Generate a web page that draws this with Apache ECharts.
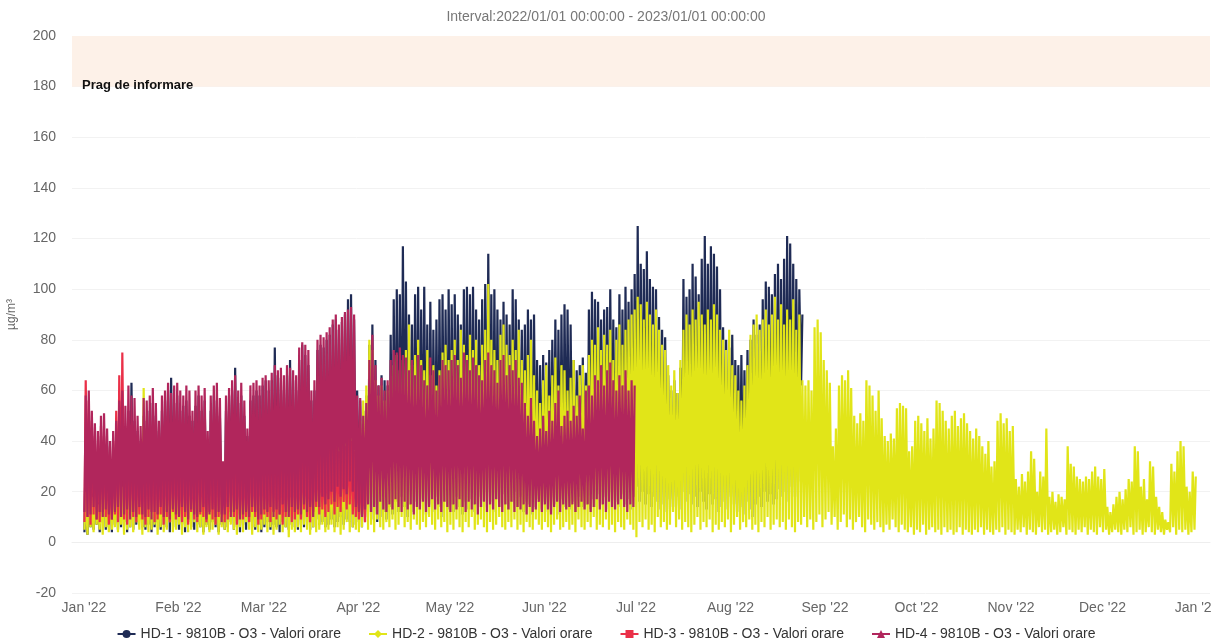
<!DOCTYPE html>
<html>
<head>
<meta charset="utf-8">
<script src="https://cdn.jsdelivr.net/npm/echarts/dist/echarts.min.js"></script>
<style>
  html, body { margin: 0; padding: 0; background: #fff; }
  #chart { width: 1212px; height: 638px; }
</style>
</head>
<body>
<div id="chart"></div>
<script>
// daily peak / low values, one entry per day from 2022-01-01
var seriesNames = [
  'HD-1 - 9810B - O3 - Valori orare',
  'HD-2 - 9810B - O3 - Valori orare',
  'HD-3 - 9810B - O3 - Valori orare',
  'HD-4 - 9810B - O3 - Valori orare'
];
var monthNames = ['Jan', 'Feb', 'Mar', 'Apr', 'May', 'Jun', 'Jul', 'Aug', 'Sep', 'Oct', 'Nov', 'Dec'];

var hd1Max = [
  40, 45, 38, 35, 30, 42, 36, 40, 32, 36,
  42, 48, 50, 45, 52, 63, 48, 44, 40, 50,
  48, 52, 55, 50, 44, 52, 56, 60, 65, 55,
  58, 52, 54, 56, 50, 48, 54, 58, 52, 56,
  40, 52, 58, 56, 50, 30, 52, 58, 60, 69,
  55, 58, 50, 42, 56, 58, 60, 58, 62, 64,
  60, 64, 77, 66, 65, 60, 66, 72, 64, 60,
  72, 78, 74, 70, 56, 60, 76, 78, 77, 80,
  82, 86, 88, 84, 87, 90, 96, 98, 88, 60,
  56, 52, 58, 78, 86, 72, 62, 66, 64, 62,
  82, 96, 100, 98, 117, 103, 90, 86, 98, 101,
  92, 101, 86, 95, 84, 88, 96, 98, 92, 100,
  94, 98, 90, 86, 100, 101, 98, 101, 92, 88,
  96, 102, 114, 98, 100, 92, 88, 95, 90, 86,
  100, 96, 88, 84, 86, 92, 88, 90, 72, 70,
  74, 71, 76, 80, 88, 84, 90, 94, 92, 86,
  72, 68, 70, 73, 67, 92, 99, 96, 95, 88,
  92, 93, 100, 88, 85, 98, 92, 101, 95, 100,
  106, 125, 110, 108, 115, 104, 101, 100, 89, 84,
  81, 66, 60, 64, 59, 69, 104, 97, 100, 110,
  105, 98, 112, 121, 110, 117, 114, 109, 100, 85,
  80, 77, 82, 72, 70, 74, 68, 76, 80, 88,
  82, 86, 96, 103, 101, 98, 106, 110, 104, 112,
  121, 118, 110, 104, 100, 90
];
var hd1Min = [
  4, 3, 6, 5, 7, 4, 8, 5, 6, 4,
  7, 5, 6, 8, 4, 6, 5, 7, 9, 6,
  5, 7, 4, 6, 8, 5, 7, 6, 4, 8,
  6, 5, 7, 4, 8, 6, 5, 7, 6, 4,
  7, 5, 8, 6, 4, 7, 5, 6, 8, 5,
  6, 4, 7, 5, 8, 6, 5, 7, 4, 6,
  8, 5, 7, 6, 4, 8, 6, 5, 7, 6,
  5, 7, 6, 8, 5, 6, 9, 7, 8, 6,
  7, 9, 6, 8, 10, 7, 9, 8, 6, 7,
  8, 6, 10, 12, 9, 11, 8, 10, 12, 9,
  14, 11, 16, 12, 18, 14, 10, 15, 12, 16,
  13, 17, 11, 15, 12, 18, 14, 10, 16, 13,
  15, 12, 18, 14, 11, 16, 13, 17, 12, 15,
  18, 14, 20, 16, 12, 17, 14, 19, 15, 13,
  16, 20, 14, 18, 12, 16, 15, 11, 14, 17,
  13, 16, 12, 18, 15, 11, 17, 14, 19, 13,
  16, 12, 18, 14, 20, 15, 13, 17, 14, 19,
  15, 18, 13, 20, 16, 14, 19, 15, 17, 13,
  18, 22, 16, 20, 15, 19, 14, 18, 16, 13,
  15, 12, 17, 14, 18, 13, 20, 16, 19, 15,
  18, 14, 20, 16, 13, 19, 15, 17, 12, 14,
  16, 13, 18, 15, 12, 14, 11, 16, 13, 10,
  15, 18, 14, 20, 16, 19, 15, 17, 21, 18,
  20, 16, 22, 18, 24, 62
];

var hd2Max = [
  20, 28, 18, 24, 15, 22, 30, 18, 25, 20,
  26, 32, 22, 28, 35, 24, 30, 20, 26, 61,
  28, 34, 25, 30, 22, 36, 28, 32, 24, 30,
  26, 32, 28, 24, 30, 34, 36, 26, 30, 22,
  28, 32, 24, 30, 26, 20, 34, 28, 32, 30,
  36, 28, 26, 30, 34, 32, 28, 38, 30, 34,
  32, 36, 30, 40, 28, 34, 38, 32, 36, 30,
  40, 34, 38, 32, 30, 36, 42, 38, 34, 40,
  44, 38, 42, 46, 40, 48, 44, 50, 42, 36,
  48, 56, 62, 80, 76, 64, 58, 62, 56, 60,
  64, 70, 74, 68, 72, 76, 86, 70, 74, 80,
  72, 68, 76, 66, 70, 62, 68, 75, 78, 72,
  76, 80, 72, 84, 78, 74, 82, 76, 80, 70,
  78, 84, 102, 80, 76, 72, 82, 86, 78, 74,
  80, 76, 84, 72, 68, 74, 80, 66, 60, 55,
  64, 70, 58, 66, 73, 62, 70, 68, 60, 65,
  72, 58, 66, 70, 62, 74, 80, 78, 85, 76,
  82, 78, 84, 72, 80, 86, 78, 84, 88, 90,
  92, 97, 94, 88, 95, 90, 86, 92, 84, 78,
  76, 70, 62, 68, 59, 72, 84, 90, 86, 92,
  88, 95, 90, 86, 92, 88, 94, 90, 84, 80,
  76, 84, 70, 66, 60, 56, 62, 70, 82, 86,
  90, 84, 88, 92, 86, 90, 97, 88, 94, 86,
  92, 88, 96, 84, 90, 64, 62, 64, 60, 85,
  88, 83, 72, 68, 63, 38, 45, 62, 66, 64,
  68, 61, 50, 47, 51, 48, 64, 62, 58, 52,
  60, 49, 42, 40, 43, 41, 53, 55, 54, 53,
  36, 38, 48, 50, 47, 44, 49, 41, 45, 56,
  55, 52, 48, 45, 50, 52, 46, 49, 51, 47,
  44, 41, 45, 42, 38, 35, 40, 30, 32, 48,
  51, 47, 49, 44, 46, 25, 22, 27, 24, 28,
  36, 33, 20, 28, 26, 45, 18, 20, 16, 19,
  18, 17, 38, 31, 30, 26, 25, 24, 26, 25,
  28, 30, 26, 25, 29, 14, 12, 15, 18, 20,
  17, 21, 25, 24, 38, 36, 22, 25, 17, 32,
  30, 18, 14, 12, 9, 8, 31, 28, 36, 40,
  38, 22, 20, 28, 26
];
var hd2Min = [
  5, 3, 6, 4, 7, 5, 3, 6, 4, 5,
  6, 4, 7, 3, 5, 6, 4, 8, 5, 3,
  6, 4, 5, 7, 3, 6, 4, 5, 8, 4,
  5, 7, 3, 6, 4, 5, 8, 4, 6, 3,
  6, 4, 5, 7, 3, 6, 5, 4, 7, 5,
  3, 6, 4, 8, 5, 3, 6, 4, 5, 7,
  4, 6, 3, 5, 7, 4, 6, 2, 5, 4,
  6, 4, 7, 5, 3, 6, 4, 5, 7, 4,
  5, 7, 4, 6, 3, 5, 8, 4, 6, 5,
  4, 6, 8, 5, 7, 4, 9, 6, 5, 8,
  6, 9, 5, 7, 10, 6, 8, 5, 9, 7,
  5, 8, 6, 10, 7, 5, 9, 6, 8, 4,
  7, 5, 9, 6, 4, 8, 6, 10, 5, 7,
  9, 6, 4, 8, 5, 7, 10, 6, 5, 8,
  6, 9, 5, 7, 4, 8, 6, 5, 9, 7,
  5, 8, 6, 4, 7, 9, 5, 6, 8, 5,
  7, 4, 9, 6, 5, 8, 6, 10, 5, 7,
  6, 9, 5, 7, 4, 8, 6, 5, 9, 7,
  5, 2, 8, 6, 9, 5, 7, 4, 10, 6,
  8, 5, 7, 12, 6, 9, 5, 8, 6, 4,
  7, 10, 5, 8, 6, 9, 4, 7, 5, 8,
  6, 9, 4, 7, 10, 5, 8, 6, 9, 5,
  7, 4, 8, 6, 10, 5, 7, 9, 6, 8,
  5, 9, 6, 4, 8, 7, 10, 6, 9, 5,
  8, 11, 6, 9, 12, 7, 10, 5, 8, 11,
  6, 9, 5, 8, 10, 6, 4, 9, 7, 5,
  8, 6, 4, 7, 5, 9, 6, 4, 7, 5,
  4, 6, 3, 5, 4, 7, 3, 5, 6, 4,
  5, 3, 6, 4, 5, 3, 4, 6, 3, 5,
  4, 3, 5, 4, 6, 3, 5, 4, 3, 5,
  4, 6, 3, 5, 4, 3, 5, 4, 6, 3,
  5, 4, 3, 6, 4, 5, 3, 4, 5, 3,
  4, 6, 3, 5, 4, 3, 5, 4, 6, 3,
  5, 4, 3, 6, 4, 5, 3, 4, 5, 4,
  3, 5, 4, 6, 3, 4, 5, 3, 4, 6,
  4, 3, 5, 4, 3, 5, 4, 6, 3, 5,
  4, 5, 3, 4, 5
];

var hd3Max = [
  64, 56, 48, 42, 36, 46, 42, 38, 32, 40,
  52, 66, 75, 46, 40, 44, 38, 42, 35, 40,
  45, 38, 42, 48, 36, 40, 44, 38, 46, 42,
  40, 36, 44, 38, 42, 35, 40, 46, 38, 34,
  30, 42, 38, 45, 40, 28, 36, 44, 40, 38,
  42, 36, 40, 34, 44, 38, 42, 46, 40, 36,
  38, 44, 40, 36, 42, 38, 34, 40, 44, 38,
  36, 42, 38, 40, 34, 38, 44, 40, 36, 42,
  38, 44, 40, 36, 42, 38, 45, 40, 36, 32,
  30, 28, 32
];
var hd3Min = [
  8, 10, 7, 11, 9, 8, 12, 10, 7, 9,
  11, 8, 10, 9, 7, 12, 10, 8, 11, 9,
  7, 10, 12, 8, 9, 11, 7, 10, 8, 12,
  9, 11, 8, 10, 7, 12, 9, 8, 11, 10,
  8, 12, 9, 7, 10, 11, 8, 9, 12, 10,
  7, 11, 9, 10, 8, 12, 10, 7, 9, 11,
  10, 8, 12, 9, 11, 7, 10, 12, 8, 9,
  11, 9, 13, 10, 8, 12, 14, 11, 13, 10,
  12, 15, 11, 14, 12, 16, 13, 15, 11, 10,
  9, 11, 8
];

var hd4Max = [
  58, 60, 52, 47, 44, 50, 51, 45, 40, 44,
  48, 56, 60, 54, 62, 58, 57, 50, 46, 57,
  56, 58, 61, 55, 48, 58, 60, 63, 59, 62,
  63, 60, 58, 62, 60, 52, 60, 62, 58, 61,
  44, 58, 62, 63, 57, 32, 58, 61, 64, 66,
  60, 63, 56, 45, 62, 63, 64, 62, 65, 66,
  64, 67, 70, 68, 69, 66, 70, 69, 68, 66,
  77, 79, 78, 76, 60, 64, 80, 82, 81, 83,
  85, 88, 90, 86, 89, 91, 92, 93, 90, 58,
  57, 50, 55, 72, 82, 70, 62, 65, 60, 64,
  72, 76, 75, 77, 74, 73, 68, 72, 66, 74,
  70, 64, 62, 73, 68, 60, 66, 72, 70, 68,
  72, 74, 70, 65, 75, 72, 68, 73, 70, 66,
  64, 72, 75, 70, 68, 63, 72, 74, 66, 70,
  68, 72, 65, 63, 55, 50, 57, 48, 42, 45,
  50, 44, 52, 48, 55, 60, 46, 50, 52, 48,
  54, 50, 58, 45, 60, 62, 58, 66, 64, 70,
  62, 68, 71, 64, 60, 66, 62, 68, 60, 64,
  62
];
var hd4Min = [
  12, 10, 11, 14, 9, 12, 10, 13, 11, 9,
  12, 14, 10, 11, 13, 9, 12, 10, 14, 11,
  10, 13, 9, 12, 11, 14, 10, 12, 9, 13,
  11, 10, 14, 12, 9, 13, 11, 10, 12, 14,
  9, 11, 13, 10, 12, 8, 11, 14, 10, 12,
  13, 9, 11, 12, 10, 14, 12, 9, 11, 13,
  12, 14, 10, 13, 11, 15, 12, 10, 14, 12,
  13, 11, 15, 12, 14, 10, 16, 14, 18, 15,
  17, 20, 16, 22, 18, 21, 19, 24, 20, 14,
  12, 10, 13, 15, 12, 14, 11, 16, 13, 12,
  15, 13, 17, 14, 12, 16, 13, 15, 11, 14,
  13, 16, 12, 14, 17, 13, 15, 12, 16, 14,
  12, 15, 13, 17, 14, 12, 16, 13, 15, 11,
  14, 16, 12, 15, 13, 17, 14, 12, 15, 13,
  16, 12, 14, 13, 15, 11, 14, 12, 13, 16,
  12, 15, 13, 11, 14, 16, 12, 15, 13, 14,
  15, 12, 14, 16, 13, 15, 12, 14, 17, 13,
  15, 12, 16, 14, 13, 15, 17, 14, 12, 15,
  14
];

var colors = ['#1f2b55', '#e1e518', '#ea3048', '#b1265c'];
var symbols = ['circle', 'diamond', 'rect', 'triangle'];

var DAY = 86400000;
var START = Date.UTC(2022, 0, 1);

// each day: low in the early morning, peak in the afternoon
function dailyPoints(mins, maxs) {
  var out = [];
  for (var i = 0; i < maxs.length; i++) {
    out.push([START + i * DAY + 4 * 3600000, mins[i]]);
    out.push([START + i * DAY + 14 * 3600000, maxs[i]]);
  }
  return out;
}

var seriesData = [
  dailyPoints(hd1Min, hd1Max),
  dailyPoints(hd2Min, hd2Max),
  dailyPoints(hd3Min, hd3Max),
  dailyPoints(hd4Min, hd4Max)
];

var chart = echarts.init(document.getElementById('chart'), null, { renderer: 'canvas' });

var series = seriesNames.map(function (name, k) {
  var s = {
    name: name,
    type: 'line',
    data: seriesData[k],
    symbol: symbols[k],
    symbolSize: 8,
    showSymbol: false,
    lineStyle: { width: 2.2, color: colors[k] },
    itemStyle: { color: colors[k] },
    emphasis: { disabled: true },
    z: 2 + k
  };
  if (k === 0) {
    s.markArea = {
      silent: true,
      itemStyle: { color: '#fdf1e8' },
      label: {
        show: true,
        position: [10, 43],
        color: '#111',
        fontSize: 13,
        fontWeight: 'bold'
      },
      data: [[{ name: 'Prag de informare', yAxis: 180 }, { yAxis: 200 }]]
    };
  }
  return s;
});

var option = {
  animation: false,
  useUTC: true,
  textStyle: { fontFamily: 'Liberation Sans, Arial, sans-serif' },
  title: {
    text: 'Interval:2022/01/01 00:00:00 - 2023/01/01 00:00:00',
    left: 'center',
    top: 5,
    textStyle: { color: '#777', fontSize: 14, fontWeight: 'normal' }
  },
  legend: {
    top: 622,
    left: 'center',
    itemWidth: 18,
    itemHeight: 10,
    itemGap: 27,
    textStyle: { color: '#333', fontSize: 14 },
    data: seriesNames
  },
  grid: { left: 72, right: 2, top: 36, bottom: 45, outerBoundsMode: 'none', containLabel: false },
  xAxis: {
    type: 'time',
    min: Date.UTC(2021, 11, 28, 2),
    max: Date.UTC(2023, 0, 5, 6),
    splitNumber: 12,
    axisLine: { show: true, lineStyle: { color: '#eeeeee' } },
    axisTick: { show: false },
    splitLine: { show: false },
    axisLabel: {
      color: '#666',
      fontSize: 14,
      margin: 8,
      formatter: function (val) {
        var d = new Date(val);
        return monthNames[d.getUTCMonth()] + " '" + String(d.getUTCFullYear()).slice(2);
      }
    }
  },
  yAxis: {
    type: 'value',
    min: -20,
    max: 200,
    interval: 20,
    name: 'µg/m³',
    nameLocation: 'middle',
    nameGap: 54,
    nameTextStyle: { color: '#666', fontSize: 12 },
    axisLine: { show: false },
    axisTick: { show: false },
    splitLine: { lineStyle: { color: '#f2f2f2' } },
    axisLabel: { color: '#666', fontSize: 14, margin: 16 }
  },
  series: series
};

chart.setOption(option);
</script>
</body>
</html>
